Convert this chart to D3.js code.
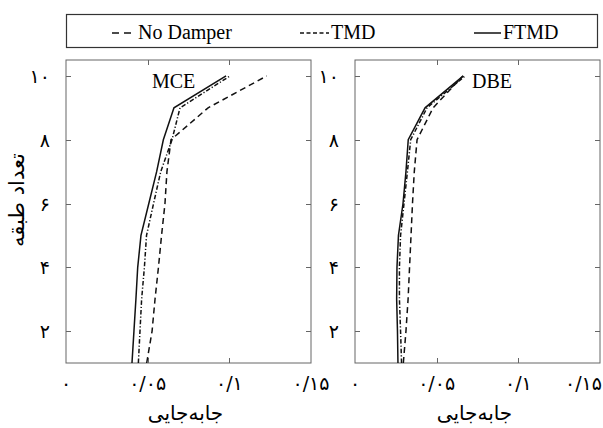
<!DOCTYPE html>
<html>
<head>
<meta charset="utf-8">
<script src="https://cdn.jsdelivr.net/npm/d3@7"></script>
<style>
  body { margin: 0; background: #fff; }
  .lat { font-family: "Liberation Serif", "Times New Roman", serif; }
  .fa { font-family: "DejaVu Sans", "Noto Sans", sans-serif; }
</style>
</head>
<body>
<div id="chart"></div>
<script>
// story drift profiles, MCE (left) and DBE (right)
var stories = [1, 2, 3, 4, 5, 6, 7, 8, 9, 10]

var mce_nodamper = [0.0494, 0.0527, 0.0545, 0.0566, 0.0585, 0.0606, 0.0618, 0.0643, 0.087, 0.1229]
var mce_tmd      = [0.0443, 0.0453, 0.0463, 0.0480, 0.0493, 0.0536, 0.0580, 0.0649, 0.0698, 0.1004]
var mce_ftmd     = [0.0404, 0.0416, 0.0428, 0.0439, 0.0459, 0.0507, 0.0555, 0.0596, 0.0661, 0.0980]

var dbe_nodamper = [0.0296, 0.0312, 0.0325, 0.0334, 0.0343, 0.0352, 0.0363, 0.0380, 0.0478, 0.0661]
var dbe_tmd      = [0.0285, 0.0279, 0.0272, 0.0272, 0.0279, 0.0300, 0.0321, 0.0341, 0.0441, 0.0674]
var dbe_ftmd     = [0.0263, 0.0260, 0.0255, 0.0257, 0.0266, 0.0294, 0.0312, 0.0326, 0.0429, 0.0663]

var x_ticks = [0, 0.05, 0.1, 0.15]
var x_tick_labels = ["۰", "۰/۰۵", "۰/۱", "۰/۱۵"]
var y_ticks = [2, 4, 6, 8, 10]
var y_tick_labels = ["۲", "۴", "۶", "۸", "۱۰"]

var series_names = ["No Damper", "TMD", "FTMD"]
var x_title = "جابه\u200Cجایی"
var y_title = "تعداد طبقه"

var width = 603
var height = 428
var dashes = ["6,4", "4.5,2,1.2,2", null]
var tick_len = 5

var svg = d3.select("#chart")
  .append("svg")
    .attr("width", width)
    .attr("height", height)

var panels = [
  {name: "MCE", left: 66, right: 311, label_x: 152, data: [mce_nodamper, mce_tmd, mce_ftmd]},
  {name: "DBE", left: 355, right: 600, label_x: 472, data: [dbe_nodamper, dbe_tmd, dbe_ftmd]}
]

var yScale = d3.scaleLinear().domain([1, 10.5]).range([363, 60])

panels.forEach(function(p, pi) {
  var xScale = d3.scaleLinear().domain([0, 0.15]).range([p.left, p.right])
  var g = svg.append("g")

  // frame
  g.append("rect")
    .attr("x", p.left).attr("y", yScale(10.5))
    .attr("width", p.right - p.left)
    .attr("height", yScale(1) - yScale(10.5))
    .attr("fill", "none").attr("stroke", "#666").attr("stroke-width", 1)

  // inward ticks on all four sides
  g.selectAll(".yt").data(y_ticks).enter().append("path")
    .attr("d", function(d) {
      var y = Math.round(yScale(d)) + 0.5
      return "M" + p.left + "," + y + "h" + tick_len + "M" + p.right + "," + y + "h" + (-tick_len)
    })
    .attr("stroke", "#666")
  g.selectAll(".xt").data(x_ticks.slice(1, 3)).enter().append("path")
    .attr("d", function(d) {
      var x = Math.round(xScale(d)) + 0.5
      return "M" + x + "," + yScale(1) + "v" + (-tick_len) + "M" + x + "," + yScale(10.5) + "v" + tick_len
    })
    .attr("stroke", "#666")

  // tick labels
  g.selectAll(".yl").data(y_ticks).enter().append("text")
    .attr("class", "fa")
    .attr("x", p.left - 16)
    .attr("y", function(d) { return yScale(d) + 7 })
    .attr("text-anchor", "end")
    .attr("font-size", 19)
    .text(function(d, i) { return y_tick_labels[i] })

  g.selectAll(".xl").data(x_ticks).enter().append("text")
    .attr("class", "fa")
    .attr("x", function(d, i) { return (pi == 1 && i == 3) ? width - 1 : xScale(d) })
    .attr("y", 390)
    .attr("text-anchor", function(d, i) { return (pi == 1 && i == 3) ? "end" : "middle" })
    .attr("font-size", 19)
    .text(function(d, i) { return x_tick_labels[i] })

  g.append("text")
    .attr("class", "fa")
    .attr("x", (p.left + p.right) / 2 - 3)
    .attr("y", 420)
    .attr("text-anchor", "middle")
    .attr("font-size", 20)
    .text(x_title)

  // curves
  var line = d3.line()
    .x(function(d) { return xScale(d[0]) })
    .y(function(d) { return yScale(d[1]) })

  p.data.forEach(function(vals, si) {
    g.append("path")
      .datum(vals.map(function(v, i) { return [v, stories[i]] }))
      .attr("d", line)
      .attr("fill", "none")
      .attr("stroke", "#111")
      .attr("stroke-width", 1.5)
      .attr("stroke-dasharray", dashes[si])
  })

  g.append("text")
    .attr("class", "lat")
    .attr("x", p.label_x)
    .attr("y", 88)
    .attr("font-size", 20)
    .text(p.name)
})

// y axis title
svg.append("text")
  .attr("class", "fa")
  .attr("transform", "translate(24,200)rotate(-90)")
  .attr("text-anchor", "middle")
  .attr("font-size", 21)
  .text(y_title)

// legend
var legend = svg.append("g")
legend.append("rect")
  .attr("x", 66.5).attr("y", 14.5)
  .attr("width", 531).attr("height", 33)
  .attr("fill", "none").attr("stroke", "#333").attr("stroke-width", 1.2)

var legend_x = [112, 300, 474]
var legend_len = [24, 29, 27]
series_names.forEach(function(name, i) {
  legend.append("line")
    .attr("x1", legend_x[i]).attr("x2", legend_x[i] + legend_len[i])
    .attr("y1", 33).attr("y2", 33)
    .attr("stroke", "#111").attr("stroke-width", 1.5)
    .attr("stroke-dasharray", i == 0 ? "7,5" : (i == 1 ? "4,2.5" : null))
  legend.append("text")
    .attr("class", "lat")
    .attr("x", legend_x[i] + legend_len[i] + 2)
    .attr("y", 39)
    .attr("font-size", 20)
    .text(name)
})
</script>
</body>
</html>
